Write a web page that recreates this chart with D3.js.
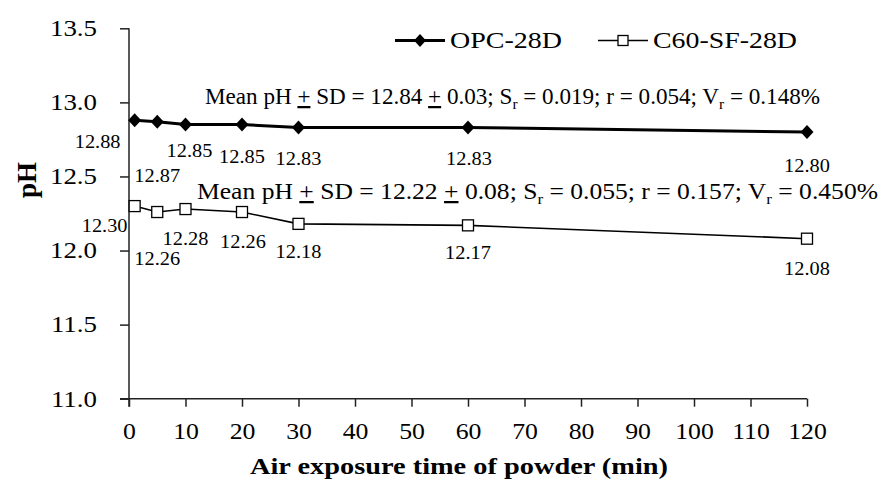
<!DOCTYPE html>
<html>
<head>
<meta charset="utf-8">
<script src="https://cdn.jsdelivr.net/npm/d3@7"></script>
<style>
  html, body { margin: 0; padding: 0; background: #fff; }
  svg text { font-family: "Liberation Serif", "Times New Roman", serif; fill: #000; }
</style>
</head>
<body>
<svg id="chart" width="889" height="486"></svg>
<script>
// ---- data ----
const times = [1, 5, 10, 20, 30, 60, 120];
const opc = [12.88, 12.87, 12.85, 12.85, 12.83, 12.83, 12.80];
const c60 = [12.30, 12.26, 12.28, 12.26, 12.18, 12.17, 12.08];
const seriesNames = ["OPC-28D", "C60-SF-28D"];
const xTicks = [0, 10, 20, 30, 40, 50, 60, 70, 80, 90, 100, 110, 120];
const yTicks = [11.0, 11.5, 12.0, 12.5, 13.0, 13.5];
const statsOPC = { mean: "12.84", sd: "0.03", sr: "0.019", r: "0.054", vr: "0.148%" };
const statsC60 = { mean: "12.22", sd: "0.08", sr: "0.055", r: "0.157", vr: "0.450%" };

// ---- layout ----
const svg = d3.select("#chart");
const x = d3.scaleLinear().domain([0, 120]).range([129, 807]);
const y = d3.scaleLinear().domain([11, 13.5]).range([398.7, 28.3]);
const SX = 1.17;

function stretch(sel, f) {
  sel.each(function () {
    const w = this.getComputedTextLength();
    this.setAttribute("textLength", w * f);
    this.setAttribute("lengthAdjust", "spacingAndGlyphs");
  });
}

// axes
const xAxis = svg.append("g").attr("transform", `translate(0,${y(11)})`)
  .call(d3.axisBottom(x).tickValues(xTicks).tickSize(8).tickPadding(16).tickFormat(d3.format("d")));
const yAxis = svg.append("g").attr("transform", `translate(${x(0)},0)`)
  .call(d3.axisLeft(y).tickValues(yTicks).tickSize(9).tickPadding(23).tickFormat(d3.format(".1f")));
[xAxis, yAxis].forEach(a => {
  a.select(".domain").attr("stroke", "#222").attr("stroke-width", 1.5);
  a.selectAll(".tick line").attr("stroke", "#222").attr("stroke-width", 1.5);
  a.selectAll("text").attr("font-family", "Liberation Serif").attr("font-size", 23).attr("fill", "#000");
});
// extend x domain line left to the y tick end
xAxis.select(".domain").attr("d", `M${x(0) - 9},0H${x(120)}`);
yAxis.select(".domain").attr("d", `M0,${y(13.5)}V${y(11) + 8}`);
stretch(xAxis.selectAll(".tick text"), 1.12);
stretch(yAxis.selectAll(".tick text"), SX);

// axis titles
const xt = svg.append("text").attr("x", 459).attr("y", 474).attr("text-anchor", "middle")
  .attr("font-weight", "bold").attr("font-size", 24).text("Air exposure time of powder (min)");
stretch(xt, 1.0);
xt.attr("textLength", 418);
svg.append("text").attr("transform", "translate(36,180) rotate(-90)").attr("text-anchor", "middle")
  .attr("font-weight", "bold").attr("font-size", 27).text("pH");

// series
const line = d3.line().x(d => x(d[0])).y(d => y(d[1]));
const opcPts = times.map((t, i) => [t, opc[i]]);
const c60Pts = times.map((t, i) => [t, c60[i]]);

svg.append("path").datum(opcPts).attr("d", line).attr("fill", "none").attr("stroke", "#000").attr("stroke-width", 3);
svg.append("path").datum(c60Pts).attr("d", line).attr("fill", "none").attr("stroke", "#000").attr("stroke-width", 1.6);

function diamond(cx, cy, hw, hh) {
  return `M${cx},${cy - hh}L${cx + hw},${cy}L${cx},${cy + hh}L${cx - hw},${cy}Z`;
}
svg.selectAll(".dia").data(opcPts).join("path")
  .attr("d", d => diamond(x(d[0]), y(d[1]), 6.5, 7)).attr("fill", "#000");
svg.selectAll(".sq").data(c60Pts).join("rect")
  .attr("x", d => x(d[0]) - 5.5).attr("y", d => y(d[1]) - 5.5)
  .attr("width", 11).attr("height", 11).attr("fill", "#fff").attr("stroke", "#000").attr("stroke-width", 1.3);

// data labels (offsets relative to each marker)
const opcLabelOff = [[-37, 28], [0, 60], [4, 32], [0, 38], [0, 37], [1, 37], [0, 40]];
const c60LabelOff = [[-30, 26], [0, 53], [0, 36], [1, 36], [0, 34], [0, 34], [0, 36]];
function labels(pts, offs) {
  const t = svg.append("g").selectAll("text").data(pts).join("text")
    .attr("x", (d, i) => x(d[0]) + offs[i][0])
    .attr("y", (d, i) => y(d[1]) + offs[i][1])
    .attr("text-anchor", "middle").attr("font-size", 18.5)
    .text(d => d[1].toFixed(2));
  stretch(t, 1.1);
}
labels(opcPts, opcLabelOff);
labels(c60Pts, c60LabelOff);

// stats annotations
function stats(s, px, py, width) {
  const t = svg.append("text").attr("x", px).attr("y", py).attr("font-size", 22.5);
  t.append("tspan").text(`Mean pH `);
  t.append("tspan").attr("text-decoration", "underline").text("+");
  t.append("tspan").text(` SD = ${s.mean} `);
  t.append("tspan").attr("text-decoration", "underline").text("+");
  t.append("tspan").text(` ${s.sd}; S`);
  t.append("tspan").attr("font-size", 15).attr("dy", 5).text("r");
  t.append("tspan").attr("dy", -5).text(` = ${s.sr}; r = ${s.r}; V`);
  t.append("tspan").attr("font-size", 15).attr("dy", 5).text("r");
  t.append("tspan").attr("dy", -5).text(` = ${s.vr}`);
  t.attr("textLength", width).attr("lengthAdjust", "spacingAndGlyphs");
}
stats(statsOPC, 205, 104, 615);
stats(statsC60, 197, 199, 681);

// legend
const lg = svg.append("g");
lg.append("line").attr("x1", 395).attr("x2", 445).attr("y1", 40.5).attr("y2", 40.5).attr("stroke", "#000").attr("stroke-width", 3);
lg.append("path").attr("d", diamond(420, 40.5, 6, 6.5)).attr("fill", "#000");
const l1 = lg.append("text").attr("x", 450).attr("y", 48).attr("font-size", 23).text(seriesNames[0]);
l1.attr("textLength", 112).attr("lengthAdjust", "spacingAndGlyphs");
lg.append("line").attr("x1", 598).attr("x2", 648).attr("y1", 40.5).attr("y2", 40.5).attr("stroke", "#000").attr("stroke-width", 1.6);
lg.append("rect").attr("x", 618).attr("y", 35.5).attr("width", 10).attr("height", 10).attr("fill", "#fff").attr("stroke", "#000").attr("stroke-width", 1.3);
const l2 = lg.append("text").attr("x", 653).attr("y", 48).attr("font-size", 23).text(seriesNames[1]);
l2.attr("textLength", 144).attr("lengthAdjust", "spacingAndGlyphs");
</script>
</body>
</html>
